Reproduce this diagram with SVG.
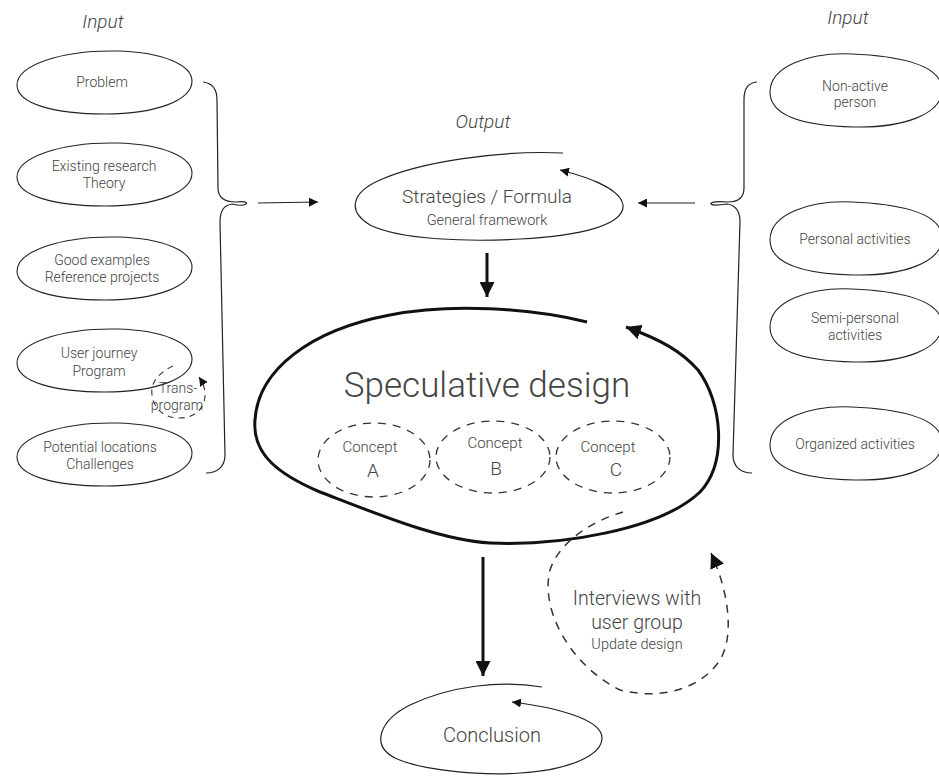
<svg xmlns="http://www.w3.org/2000/svg" width="939" height="776" viewBox="0 0 939 776">
<style>
text{font-family:Roboto,"Liberation Sans",sans-serif;font-weight:300;fill:#444;text-anchor:middle}
.t{font-size:14px}
.title{font-size:19px;font-style:italic}
.blob{fill:none;stroke:#222;stroke-width:1.1}
.thin{fill:none;stroke:#222;stroke-width:1.2}
.thick{fill:none;stroke:#111;stroke-width:3}
.dash{fill:none;stroke:#333;stroke-width:1.3;stroke-dasharray:8 7}
</style>
<defs>
<marker id="ah" viewBox="0 0 10 10" refX="10" refY="5" markerWidth="9" markerHeight="9" markerUnits="userSpaceOnUse" orient="auto"><path d="M0,0 L10,5 L0,10 Z" fill="#111"/></marker>
<marker id="ahb" viewBox="0 0 10 10" refX="10" refY="5" markerWidth="15" markerHeight="15" markerUnits="userSpaceOnUse" orient="auto"><path d="M0,0 L10,5 L0,10 Z" fill="#111"/></marker>
<path id="lb" d="M0,35 C0,16 42,0 100,1 C148,2 175,16 175,31 C175,50 140,64 88,64 C38,64 0,54 0,35 Z"/>
<path id="rb" d="M0,40 C0,14 40,0 82,2 C128,4 172,12 172,38 C172,62 134,76 84,75 C40,74 0,66 0,40 Z"/>
</defs>

<g id="titles">
<text class="title" x="103" y="28">Input</text>
<text class="title" x="848" y="24">Input</text>
<text class="title" x="483" y="128">Output</text>
</g>

<g id="n-problem"><use href="#lb" class="blob" x="17" y="50"/><text class="t" x="102" y="87">Problem</text></g>
<g id="n-research"><use href="#lb" class="blob" x="17" y="142"/><text class="t" x="104" y="171">Existing research</text><text class="t" x="104" y="188">Theory</text></g>
<g id="n-examples"><use href="#lb" class="blob" x="17" y="236"/><text class="t" x="102" y="265">Good examples</text><text class="t" x="102" y="282">Reference projects</text></g>
<g id="n-journey"><use href="#lb" class="blob" x="17" y="328"/><text class="t" x="99" y="358">User journey</text><text class="t" x="99" y="376">Program</text></g>
<g id="n-locations"><use href="#lb" class="blob" x="17" y="422"/><text class="t" x="100" y="452">Potential locations</text><text class="t" x="100" y="469">Challenges</text></g>
<g id="n-trans"><text class="t" x="178" y="393">Trans-</text><text class="t" x="177" y="410">program</text></g>

<g id="n-nonactive"><use href="#rb" class="blob" x="770" y="52"/><text class="t" x="855" y="91">Non-active</text><text class="t" x="855" y="107">person</text></g>
<g id="n-personal"><use href="#rb" class="blob" x="770" y="200"/><text class="t" x="855" y="244">Personal activities</text></g>
<g id="n-semi"><use href="#rb" class="blob" x="770" y="287"/><text class="t" x="855" y="323">Semi-personal</text><text class="t" x="855" y="340">activities</text></g>
<g id="n-organized"><use href="#rb" class="blob" x="770" y="405"/><text class="t" x="855" y="449">Organized activities</text></g>

<g id="n-strategies">
<path class="thin" d="M563,153 C500,150 420,162 380,180 C350,193 348,212 370,225 C400,240 470,242 520,239 C580,236 625,225 623,205 C621,190 592,178 560,170" marker-end="url(#ah)"/>
<text x="487" y="203" style="font-size:19px">Strategies / Formula</text>
<text x="487" y="225" style="font-size:14.5px">General framework</text>
</g>

<g id="n-speculative">
<path class="thick" d="M587,322 C530,308 450,303 390,315 C310,330 258,370 255,420 C252,455 280,475 320,492 C380,515 440,540 490,543 C560,546 660,530 700,492 C728,462 722,402 698,370 C682,352 662,340 626,327" marker-end="url(#ahb)"/>
<text x="487" y="397" style="font-size:35px">Speculative design</text>
</g>

<g id="n-conceptA"><ellipse class="dash" cx="374" cy="460" rx="56" ry="37"/><text x="370" y="452" style="font-size:15px">Concept</text><text x="373" y="477" style="font-size:19px">A</text></g>
<g id="n-conceptB"><ellipse class="dash" cx="493" cy="457" rx="57" ry="36"/><text x="495" y="448" style="font-size:15px">Concept</text><text x="496" y="475" style="font-size:19px">B</text></g>
<g id="n-conceptC"><ellipse class="dash" cx="613" cy="457" rx="57" ry="36"/><text x="608" y="452" style="font-size:15px">Concept</text><text x="616" y="476" style="font-size:19px">C</text></g>

<g id="n-interviews">
<text x="637" y="605" style="font-size:19.5px">Interviews with</text>
<text x="637" y="629" style="font-size:19.5px">user group</text>
<text x="637" y="649" style="font-size:14.5px">Update design</text>
</g>

<g id="n-conclusion">
<path class="thin" d="M542,687 C500,680 450,686 410,705 C380,720 370,745 395,758 C420,770 480,776 520,773 C570,770 602,755 602,738 C602,720 560,708 512,702" marker-end="url(#ah)"/>
<text x="492" y="742" style="font-size:20px">Conclusion</text>
</g>

<g id="connectors">
<path class="thin" d="M203,82 C212,83 217,88 217,100 L218,188 C218,198 225,202 236,202 C243,201 248,202 246,204 C243,206 236,205 232,204 C224,205 220,210 220,222 L225,455 C225,466 218,473 206,473"/>
<path class="thin" d="M258,203 L318,202" marker-end="url(#ah)"/>
<path class="thin" d="M757,82 C748,83 744,88 744,100 L744,188 C744,198 738,202 728,202 C719,201 710,202 711,204 C713,206 721,205 727,204 C735,205 740,210 740,222 L733,455 C733,466 740,473 752,473"/>
<path class="thin" d="M695,203 L638,203" marker-end="url(#ah)"/>
<path class="thick" d="M487,253 L487,297" marker-end="url(#ahb)"/>
<path class="thick" d="M483,557 L483,676" marker-end="url(#ahb)"/>
<path class="dash" style="stroke-width:1.5" d="M623,512 C595,520 560,540 550,570 C540,610 570,665 620,690 C660,700 700,690 720,660 C735,635 728,590 711,553" marker-end="url(#ahb)"/>
<path class="dash" style="stroke-width:1.1;stroke-dasharray:6 5" d="M173,366 C160,372 150,382 152,395 C154,410 165,418 180,418 C195,418 205,408 205,395 C205,388 203,383 199,377" marker-end="url(#ah)"/>
</g>
</svg>
